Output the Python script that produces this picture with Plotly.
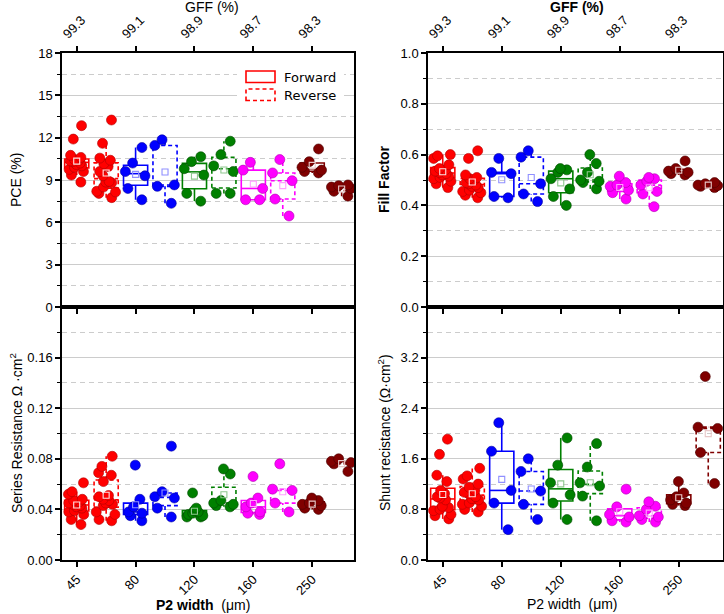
import numpy as np
import plotly.graph_objects as go

W, H = 724, 614

# ---------------- data ----------------
p2_width = ["45", "80", "120", "160", "250"]
gff = ["99.3", "99.1", "98.9", "98.7", "98.3"]
colors = ["#FF0000", "#0000FF", "#008000", "#FF00FF", "#800000"]
edge_colors = ["#B00000", "#0000A0", "#004A00", "#B000B0", "#4A0000"]
mean_colors = ["#FFE0E0", "#9090FF", "#90C890", "#FFA0FF", "#E8C8C8"]

pce_fwd = [
    [12.85, 11.9, 10.75, 10.6, 10.45, 10.4, 10.35, 10.3, 10.2, 10.1, 10.0, 9.9, 9.75, 9.6, 9.35, 8.85],
    [11.3, 10.2, 9.6, 9.3, 8.4, 7.6],
    [10.65, 10.3, 9.8, 9.35, 8.05, 7.5],
    [10.25, 9.7, 8.4, 7.6, 7.6],
    [11.2, 10.3, 9.9, 9.7, 9.6, 9.5],
]
pce_rev = [
    [13.25, 11.6, 10.55, 10.4, 10.15, 9.95, 9.6, 9.3, 8.9, 8.85, 8.8, 8.5, 8.2, 8.15, 8.05, 7.75],
    [11.85, 11.45, 8.65, 8.55, 7.35],
    [11.75, 10.8, 10.0, 9.6, 8.05, 8.05],
    [10.45, 9.5, 8.95, 7.65, 6.45],
    [8.65, 8.6, 8.5, 8.4, 8.2, 7.85],
]
ff_fwd = [
    [0.60, 0.595, 0.585, 0.56, 0.545, 0.54, 0.535, 0.53, 0.525, 0.52, 0.515, 0.51, 0.505, 0.495, 0.485, 0.47],
    [0.585, 0.53, 0.525, 0.435, 0.43],
    [0.545, 0.54, 0.53, 0.505, 0.465, 0.435, 0.40],
    [0.515, 0.49, 0.48, 0.475, 0.46, 0.45, 0.425],
    [0.575, 0.545, 0.535, 0.53, 0.525, 0.52],
]
ff_rev = [
    [0.615, 0.585, 0.52, 0.51, 0.505, 0.50, 0.49, 0.485, 0.48, 0.475, 0.47, 0.46, 0.455, 0.45, 0.44, 0.43],
    [0.615, 0.59, 0.485, 0.445, 0.415],
    [0.60, 0.565, 0.53, 0.50, 0.495, 0.49, 0.465],
    [0.51, 0.505, 0.495, 0.48, 0.455, 0.445, 0.395],
    [0.49, 0.485, 0.48, 0.478, 0.475, 0.47],
]
rs_fwd = [
    [0.061, 0.054, 0.052, 0.048, 0.047, 0.046, 0.045, 0.044, 0.043, 0.042, 0.041, 0.039, 0.038, 0.036, 0.032, 0.028],
    [0.075, 0.048, 0.042, 0.038, 0.037, 0.035, 0.031],
    [0.053, 0.041, 0.039, 0.038, 0.037, 0.036, 0.035, 0.034, 0.034],
    [0.066, 0.049, 0.045, 0.042, 0.038, 0.037, 0.036],
    [0.049, 0.047, 0.045, 0.044, 0.043, 0.041, 0.040],
]
rs_rev = [
    [0.082, 0.074, 0.069, 0.067, 0.062, 0.051, 0.050, 0.048, 0.047, 0.045, 0.044, 0.043, 0.038, 0.036, 0.032, 0.031],
    [0.090, 0.054, 0.050, 0.049, 0.041, 0.034],
    [0.072, 0.068, 0.047, 0.045, 0.044, 0.043, 0.042],
    [0.076, 0.056, 0.055, 0.045, 0.038],
    [0.080, 0.078, 0.077, 0.076, 0.070],
]
rsh_fwd = [
    [1.91, 1.67, 1.34, 1.24, 1.10, 1.05, 1.00, 0.98, 0.95, 0.85, 0.83, 0.80, 0.78, 0.72, 0.70, 0.65],
    [2.17, 1.72, 1.10, 0.90, 0.48],
    [1.93, 1.50, 1.22, 1.03, 0.90, 0.64],
    [1.12, 0.84, 0.72, 0.68, 0.62, 0.60],
    [1.24, 1.06, 1.00, 0.95, 0.90, 0.88, 0.86],
]
rsh_rev = [
    [1.45, 1.33, 1.28, 1.20, 1.15, 1.10, 1.07, 1.05, 1.00, 0.97, 0.95, 0.90, 0.88, 0.85, 0.80, 0.76],
    [1.60, 1.40, 1.09, 0.88, 0.64],
    [1.84, 1.47, 1.22, 1.17, 1.01, 0.62],
    [0.92, 0.85, 0.80, 0.70, 0.68, 0.64, 0.60],
    [2.90, 2.10, 2.08, 1.70, 1.21],
]

# ---------------- helpers ----------------
def fx(px):
    return px / W

def fy(py):
    return 1 - py / H

BOX_W = 0.82
DASH = "4px,3px"
FONT = "Liberation Sans, Arial, sans-serif"

fig = go.Figure()
shapes = []
panels = [
    (pce_fwd, pce_rev, "x", "y"),
    (ff_fwd, ff_rev, "x2", "y2"),
    (rs_fwd, rs_rev, "x3", "y3"),
    (rsh_fwd, rsh_rev, "x4", "y4"),
]

for fwd, rev, xa, ya in panels:
    for i in range(5):
        for k, (vals, dash) in enumerate([(fwd[i], "solid"), (rev[i], DASH)]):
            v = np.asarray(vals, dtype=float)
            p = 2 * i + k
            q1, med, q3 = np.percentile(v, [25, 50, 75])
            iqr = q3 - q1
            lo = v[v >= q1 - 1.5 * iqr].min()
            hi = v[v <= q3 + 1.5 * iqr].max()
            c = colors[i]
            ln = dict(color=c, width=1.6, dash=dash)
            common = dict(xref=xa, yref=ya, layer="between")
            shapes.append(dict(type="rect", x0=p - BOX_W / 2, x1=p + BOX_W / 2, y0=q1, y1=q3, line=ln, **common))
            shapes.append(dict(type="line", x0=p - BOX_W / 2, x1=p + BOX_W / 2, y0=med, y1=med, line=ln, **common))
            shapes.append(dict(type="line", x0=p, x1=p, y0=q3, y1=hi, line=ln, **common))
            shapes.append(dict(type="line", x0=p, x1=p, y0=lo, y1=q1, line=ln, **common))
            # data points (jittered by plotly)
            fig.add_trace(go.Box(
                x=[p] * len(v), y=v, xaxis=xa, yaxis=ya,
                boxpoints="all", jitter=1.0, pointpos=0, width=BOX_W,
                line=dict(width=0, color="rgba(0,0,0,0)"), fillcolor="rgba(0,0,0,0)",
                marker=dict(size=10, color=c, line=dict(width=0.6, color=edge_colors[i])),
                showlegend=False, hoveron="points",
            ))
            # mean marker
            fig.add_trace(go.Scatter(
                x=[p], y=[v.mean()], xaxis=xa, yaxis=ya, mode="markers",
                marker=dict(symbol="square-open", size=6, color=mean_colors[i], line=dict(width=1.1)),
                showlegend=False, hoverinfo="skip",
            ))

# ---------------- axes ----------------
tickfont = dict(family=FONT, size=13, color="black")
grid_c = "#cccccc"

def xaxis(domain, rng, anchor, side, labels):
    d = dict(
        domain=domain, range=rng, anchor=anchor, side=side,
        tickmode="array", tickvals=[0, 2, 4, 6, 8], ticktext=labels, tickangle=-45,
        ticks="outside", ticklen=5, tickwidth=1.5, tickcolor="black",
        showline=True, linewidth=1.5, linecolor="black",
        mirror="ticks" if side == "top" else True,
        showgrid=False, zeroline=False, tickfont=tickfont, automargin=False,
    )
    if side == "top":
        d["ticklabelshift"] = -13
    return d

def yaxis(domain, rng, anchor, major, minor, fmt):
    return dict(
        domain=domain, range=rng, anchor=anchor,
        tickmode="array", tickvals=major, ticktext=[fmt.format(t) for t in major],
        ticks="outside", ticklen=5, tickwidth=1.5, tickcolor="black",
        showline=True, linewidth=1.5, linecolor="black", mirror=True,
        showgrid=True, gridcolor=grid_c, gridwidth=1, zeroline=False,
        minor=dict(tickmode="array", tickvals=minor, ticks="outside", ticklen=3, tickwidth=1,
                   tickcolor="black", showgrid=True, gridcolor=grid_c, griddash="5px,4px", gridwidth=1),
        tickfont=tickfont, automargin=False,
    )

XD_L = [fx(62), fx(354)]
XD_R = [fx(428), fx(723)]
YD_T = [fy(307), fy(53)]
YD_B = [fy(560), fy(307)]

layout = dict(
    width=W, height=H, margin=dict(l=0, r=0, t=0, b=0),
    paper_bgcolor="white", plot_bgcolor="white", boxmode="overlay",
    showlegend=False, font=dict(family=FONT, size=13, color="black"),
    xaxis=xaxis(XD_L, [-0.5, 9.42], "y", "top", gff),
    xaxis2=xaxis(XD_R, [-0.5, 9.5], "y2", "top", gff),
    xaxis3=xaxis(XD_L, [-0.5, 9.42], "y3", "bottom", p2_width),
    xaxis4=xaxis(XD_R, [-0.5, 9.5], "y4", "bottom", p2_width),
    yaxis=yaxis(YD_T, [0, 18], "x", [0, 3, 6, 9, 12, 15, 18],
                [1.5, 4.5, 7.5, 10.5, 13.5, 16.5], "{:g}"),
    yaxis2=yaxis(YD_T, [0, 1.0], "x2", [0, 0.2, 0.4, 0.6, 0.8, 1.0],
                 [0.1, 0.3, 0.5, 0.7, 0.9], "{:.1f}"),
    yaxis3=yaxis(YD_B, [0, 0.2], "x3", [0, 0.04, 0.08, 0.12, 0.16],
                 [0.02, 0.06, 0.10, 0.14, 0.18], "{:.2f}"),
    yaxis4=yaxis(YD_B, [0, 4.0], "x4", [0, 0.8, 1.6, 2.4, 3.2],
                 [0.4, 1.2, 2.0, 2.8, 3.6], "{:.1f}"),
)

# ---------------- legend (drawn manually) ----------------
legend_shapes = [
    dict(type="rect", xref="paper", yref="paper", x0=fx(237), x1=fx(344), y0=fy(106), y1=fy(64),
         fillcolor="white", line=dict(width=0), layer="above"),
    dict(type="rect", xref="paper", yref="paper", x0=fx(246), x1=fx(275), y0=fy(82.5), y1=fy(71),
         line=dict(color="#FF0000", width=1.6), layer="above"),
    dict(type="rect", xref="paper", yref="paper", x0=fx(246), x1=fx(275), y0=fy(100.5), y1=fy(89),
         line=dict(color="#FF0000", width=1.6, dash=DASH), layer="above"),
]
shapes.extend(legend_shapes)

ann_font = dict(family=FONT, size=14, color="black")
annotations = [
    dict(text="Forward", x=fx(282), y=fy(77), xanchor="left", yanchor="middle"),
    dict(text="Reverse", x=fx(282), y=fy(95.5), xanchor="left", yanchor="middle"),
    dict(text="GFF (%)", x=fx(212), y=fy(7), xanchor="center", yanchor="middle"),
    dict(text="<b>GFF (%)</b>", x=fx(577), y=fy(7), xanchor="center", yanchor="middle"),
    dict(text="PCE (%)", x=fx(16), y=fy(180), textangle=-90, xanchor="center", yanchor="middle"),
    dict(text="<b>Fill Factor</b>", x=fx(384), y=fy(180), textangle=-90, xanchor="center", yanchor="middle"),
    dict(text="Series Resistance Ω ·cm<sup>2</sup>", x=fx(16), y=fy(433), textangle=-90,
         xanchor="center", yanchor="middle"),
    dict(text="Shunt recistance (Ω·cm<sup>2</sup>)", x=fx(384), y=fy(433), textangle=-90,
         xanchor="center", yanchor="middle"),
    dict(text="<b>P2 width</b>  (μm)", x=fx(203), y=fy(605), xanchor="center", yanchor="middle"),
    dict(text="P2 width  (μm)", x=fx(572), y=fy(604), xanchor="center", yanchor="middle"),
]
for a in annotations:
    a.update(xref="paper", yref="paper", showarrow=False, font=ann_font)
annotations[0]["font"] = dict(family="DejaVu Sans, sans-serif", size=13, color="black")
annotations[1]["font"] = dict(family="DejaVu Sans, sans-serif", size=13, color="black")

layout["shapes"] = shapes
layout["annotations"] = annotations
fig.update_layout(**layout)

fig.write_html("out.html")
